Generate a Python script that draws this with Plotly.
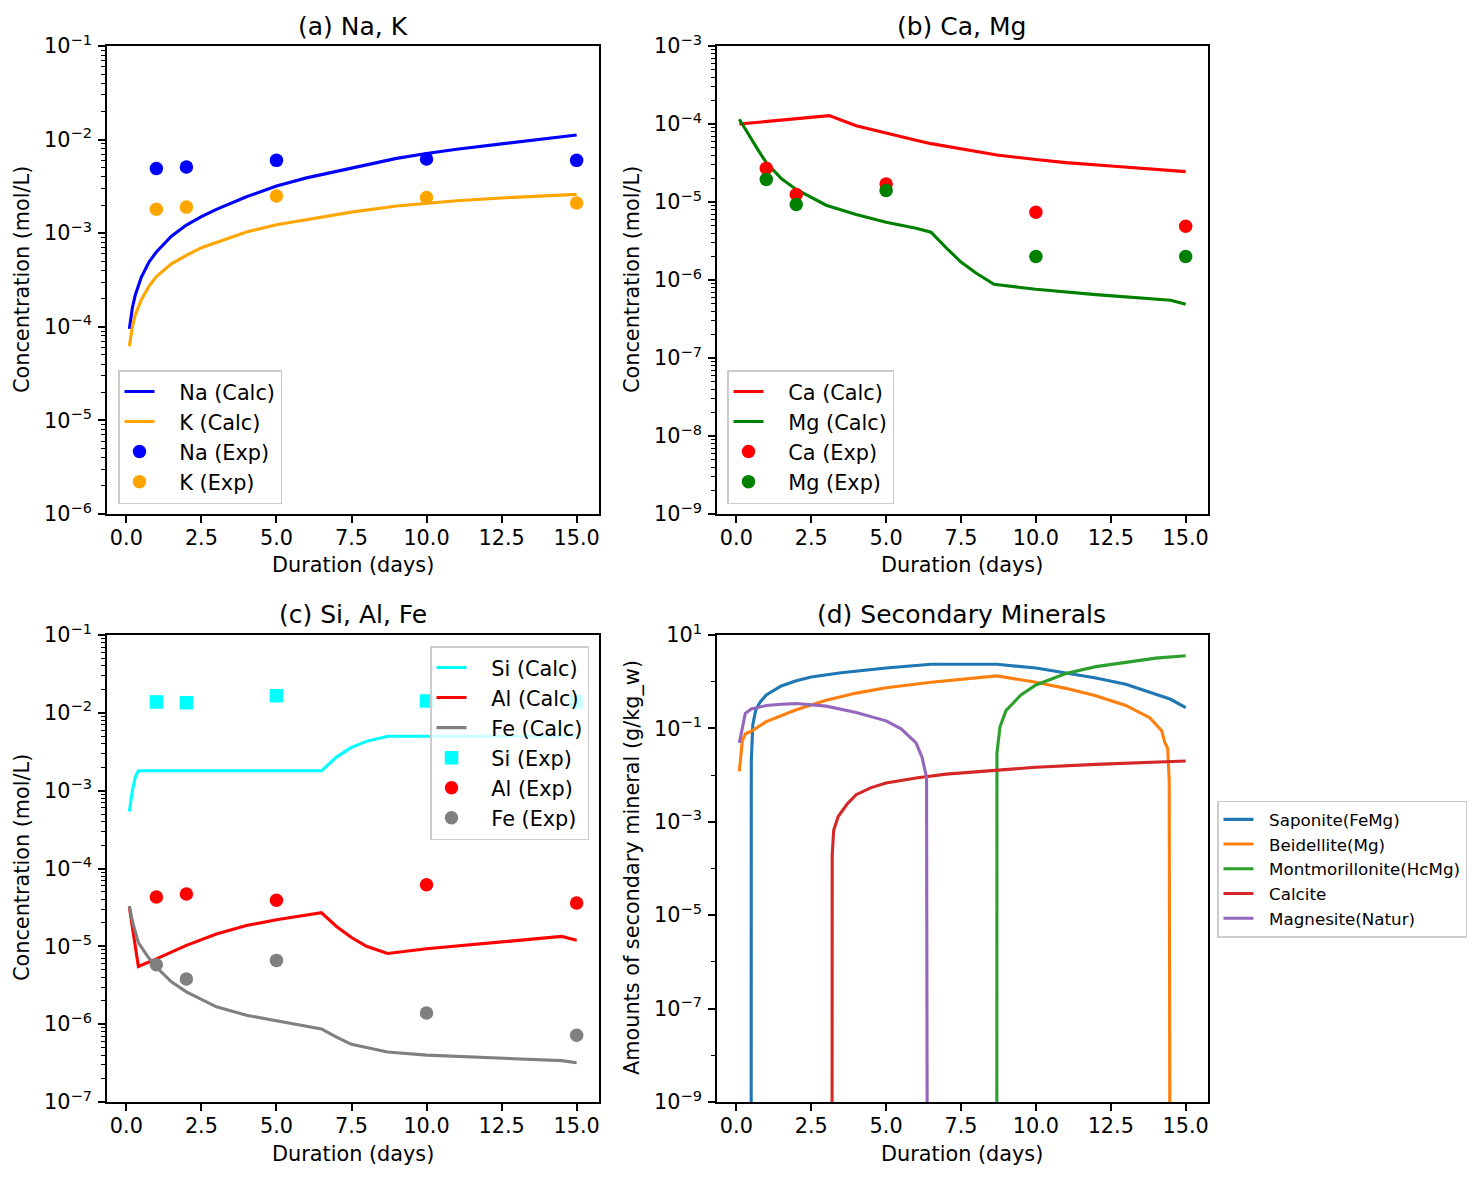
import plotly.graph_objects as go

# ---------------- data ----------------
# (a) Na, K
t_nak = [0.1, 0.2, 0.3, 0.5, 0.75, 1, 1.5, 2, 2.5, 3, 4, 5, 6, 7.5, 9, 10, 11, 12.5, 14, 15]
na_calc = [9.5e-5, 1.6e-4, 2.2e-4, 3.4e-4, 4.9e-4, 6.3e-4, 9.3e-4, 1.22e-3, 1.5e-3, 1.8e-3,
           2.45e-3, 3.2e-3, 3.9e-3, 5.0e-3, 6.3e-3, 7.1e-3, 7.9e-3, 9.0e-3, 1.03e-2, 1.12e-2]
k_calc = [6.2e-5, 1.0e-4, 1.35e-4, 1.95e-4, 2.7e-4, 3.45e-4, 4.7e-4, 5.8e-4, 7.0e-4, 8.0e-4,
          1.03e-3, 1.23e-3, 1.4e-3, 1.68e-3, 1.95e-3, 2.1e-3, 2.22e-3, 2.38e-3, 2.52e-3, 2.6e-3]
t_exp = [1, 2, 5, 10, 15]
na_exp = [4.9e-3, 5.1e-3, 6.0e-3, 6.2e-3, 6.0e-3]
k_exp = [1.8e-3, 1.9e-3, 2.5e-3, 2.4e-3, 2.1e-3]

# (b) Ca, Mg
t_ca = [0.1, 3.1, 4, 5, 6, 6.5, 7.5, 8.7, 10, 11, 12.5, 14, 14.5, 15]
ca_calc = [1.0e-4, 1.28e-4, 9.5e-5, 7.6e-5, 6.2e-5, 5.6e-5, 4.8e-5, 4.0e-5, 3.5e-5, 3.2e-5,
           2.9e-5, 2.6e-5, 2.55e-5, 2.45e-5]
t_mg = [0.1, 0.3, 0.5, 0.75, 1, 1.5, 2, 3, 4, 5, 6, 6.5, 7, 7.5, 8, 8.6, 10, 12, 14.5, 15]
mg_calc = [1.15e-4, 8.5e-5, 6.5e-5, 4.5e-5, 3.2e-5, 2.0e-5, 1.45e-5, 9.1e-6, 6.9e-6, 5.5e-6,
           4.6e-6, 4.1e-6, 2.6e-6, 1.7e-6, 1.23e-6, 8.8e-7, 7.6e-7, 6.5e-7, 5.5e-7, 4.9e-7]
ca_exp = [2.7e-5, 1.25e-5, 1.7e-5, 7.4e-6, 4.9e-6]
mg_exp = [1.95e-5, 9.3e-6, 1.4e-5, 2.0e-6, 2.0e-6]

# (c) Si, Al, Fe
t_si = [0.1, 0.2, 0.3, 0.4, 6.5, 7, 7.5, 8, 8.7, 14.5, 15]
si_calc = [5.4e-4, 1.0e-3, 1.5e-3, 1.8e-3, 1.8e-3, 2.7e-3, 3.6e-3, 4.3e-3, 5.0e-3, 5.0e-3, 5.2e-3]
t_al = [0.1, 0.4, 1, 2, 3, 4, 5, 6.5, 7, 7.5, 8, 8.7, 10, 12, 14.5, 15]
al_calc = [3.2e-5, 5.5e-6, 6.9e-6, 1.03e-5, 1.44e-5, 1.85e-5, 2.2e-5, 2.7e-5, 1.8e-5, 1.3e-5,
           1.0e-5, 8.1e-6, 9.3e-6, 1.1e-5, 1.34e-5, 1.2e-5]
t_fe = [0.1, 0.2, 0.4, 0.7, 1, 1.5, 2, 3, 4, 5, 6.5, 7, 7.5, 8, 8.7, 10, 12, 14.5, 15]
fe_calc = [3.3e-5, 2.1e-5, 1.12e-5, 7.5e-6, 5.4e-6, 3.5e-6, 2.6e-6, 1.67e-6, 1.3e-6, 1.1e-6,
           8.7e-7, 6.8e-7, 5.5e-7, 5.0e-7, 4.4e-7, 4.0e-7, 3.7e-7, 3.4e-7, 3.2e-7]
si_exp = [1.38e-2, 1.35e-2, 1.66e-2, 1.42e-2, 1.38e-2]
al_exp = [4.3e-5, 4.7e-5, 3.9e-5, 6.2e-5, 3.6e-5]
fe_exp = [5.8e-6, 3.8e-6, 6.6e-6, 1.39e-6, 7.2e-7]

# (d) Secondary minerals (g/kg_w); 0 = not present
t_sap = [0.1, 0.49, 0.5, 0.55, 0.65, 0.8, 1, 1.5, 2, 2.5, 3.5, 5, 6.5, 8.7, 10, 11, 12, 13, 14, 14.5, 15]
saponite = [0, 0, 0.02, 0.12, 0.25, 0.37, 0.52, 0.81, 1.05, 1.26, 1.55, 1.96, 2.36, 2.36, 1.96,
            1.55, 1.2, 0.88, 0.55, 0.42, 0.28]
t_bei = [0.1, 0.2, 0.3, 0.5, 1, 2, 3, 4, 5, 6.5, 8.7, 10, 11, 12, 13, 13.8, 14.2, 14.3, 14.4,
         14.45, 14.5, 15]
beidellite = [0.012, 0.054, 0.076, 0.087, 0.14, 0.25, 0.40, 0.57, 0.74, 0.97, 1.33, 0.97, 0.72,
              0.50, 0.31, 0.17, 0.089, 0.051, 0.037, 0.0078, 0, 0]
t_mon = [0.1, 8.69, 8.7, 8.8, 9, 9.5, 10, 11, 12, 13, 14, 15]
montmorillonite = [0, 0, 0.03, 0.107, 0.24, 0.52, 0.85, 1.5, 2.1, 2.6, 3.2, 3.6]
t_cal = [0.1, 3.19, 3.2, 3.25, 3.4, 3.7, 4, 4.5, 5, 6, 7, 8.7, 10, 12, 15]
calcite = [0, 0, 1.9e-4, 6.6e-4, 1.3e-3, 2.4e-3, 3.8e-3, 5.4e-3, 6.8e-3, 8.7e-3, 1.05e-2,
           1.28e-2, 1.47e-2, 1.7e-2, 2.0e-2]
t_mag = [0.1, 0.2, 0.3, 0.5, 1, 1.5, 2, 3, 4, 5, 5.5, 6, 6.2, 6.35, 6.4, 15]
magnesite = [0.049, 0.107, 0.21, 0.26, 0.31, 0.33, 0.34, 0.30, 0.22, 0.145, 0.098, 0.049,
             0.024, 0.009, 0, 0]

x_ticks = [0, 2.5, 5, 7.5, 10, 12.5, 15]
x_ticktext = ["0.0", "2.5", "5.0", "7.5", "10.0", "12.5", "15.0"]

titles = ["(a) Na, K", "(b) Ca, Mg", "(c) Si, Al, Fe", "(d) Secondary Minerals"]
xlabel = "Duration (days)"
ylabel_conc = "Concentration (mol/L)"
ylabel_min = "Amounts of secondary mineral (g/kg_w)"

# ---------------- figure ----------------
W, H = 1481, 1181
FONT = "DejaVu Sans"
FS = 20.8
LW = 3.1
MS = 13.5
PAD = "\u00a0\u00a0\u00a0"  # gap between legend handle and label
PAD4 = "\u00a0\u00a0"


def px(x):
    return x / W


def py(y):
    return 1 - y / H


def clip(vals):
    # matplotlib log-scale clipping of non-positive values
    return [v if v > 0 else 1e-20 for v in vals]


dom_x = [[px(107), px(599)], [px(717), px(1208)]]
dom_y = [[py(514), py(46)], [py(1102), py(635)]]

fig = go.Figure()


def line(x, y, name, color, xa, ya, leg, pad=PAD):
    fig.add_trace(go.Scatter(x=x, y=clip(y), mode="lines", name=pad + name, xaxis=xa, yaxis=ya,
                             line=dict(color=color, width=LW), legend=leg, legendgroup=name))


def pts(x, y, name, color, xa, ya, leg, symbol="circle"):
    fig.add_trace(go.Scatter(x=x, y=y, mode="markers", name=PAD + name, xaxis=xa, yaxis=ya,
                             marker=dict(color=color, size=MS, symbol=symbol, line=dict(width=0)),
                             legend=leg, legendgroup=name))


line(t_nak, na_calc, "Na (Calc)", "blue", "x", "y", "legend")
line(t_nak, k_calc, "K (Calc)", "orange", "x", "y", "legend")
pts(t_exp, na_exp, "Na (Exp)", "blue", "x", "y", "legend")
pts(t_exp, k_exp, "K (Exp)", "orange", "x", "y", "legend")

line(t_ca, ca_calc, "Ca (Calc)", "red", "x2", "y2", "legend2")
line(t_mg, mg_calc, "Mg (Calc)", "green", "x2", "y2", "legend2")
pts(t_exp, ca_exp, "Ca (Exp)", "red", "x2", "y2", "legend2")
pts(t_exp, mg_exp, "Mg (Exp)", "green", "x2", "y2", "legend2")

line(t_si, si_calc, "Si (Calc)", "cyan", "x3", "y3", "legend3")
line(t_al, al_calc, "Al (Calc)", "red", "x3", "y3", "legend3")
line(t_fe, fe_calc, "Fe (Calc)", "gray", "x3", "y3", "legend3")
pts(t_exp, si_exp, "Si (Exp)", "cyan", "x3", "y3", "legend3", symbol="square")
pts(t_exp, al_exp, "Al (Exp)", "red", "x3", "y3", "legend3")
pts(t_exp, fe_exp, "Fe (Exp)", "gray", "x3", "y3", "legend3")

line(t_sap, saponite, "Saponite(FeMg)", "#1f77b4", "x4", "y4", "legend4", pad=PAD4)
line(t_bei, beidellite, "Beidellite(Mg)", "#ff7f0e", "x4", "y4", "legend4", pad=PAD4)
line(t_mon, montmorillonite, "Montmorillonite(HcMg)", "#2ca02c", "x4", "y4", "legend4", pad=PAD4)
line(t_cal, calcite, "Calcite", "#d62728", "x4", "y4", "legend4", pad=PAD4)
line(t_mag, magnesite, "Magnesite(Natur)", "#9467bd", "x4", "y4", "legend4", pad=PAD4)

axis_common = dict(showline=True, linecolor="black", linewidth=1.6, mirror=True, showgrid=False,
                   zeroline=False, ticks="outside", ticklen=7, tickwidth=1.6, tickcolor="black",
                   tickfont=dict(family=FONT, size=FS, color="black"), automargin=False)


def xaxis(i, anchor):
    d = dict(axis_common)
    d.update(domain=dom_x[i % 2], range=[-0.645, 15.745], tickmode="array", tickvals=x_ticks,
             ticktext=x_ticktext, anchor=anchor, ticklabelstandoff=-3)
    return d


def sup(k):
    return "10<sup>" + ("−" + str(-k) if k < 0 else str(k)) + "</sup>"


def yaxis(i, anchor, lo, hi, step=1):
    d = dict(axis_common)
    majors = list(range(lo, hi + 1, step))
    minors = []
    if step == 1:
        for k in range(lo, hi):
            minors += [m * 10.0 ** k for m in range(2, 10)]
    else:
        minors = [10.0 ** k for k in range(lo, hi + 1) if k not in majors]
    d.update(domain=dom_y[i // 2], type="log", range=[lo, hi], tickmode="array",
             tickvals=[10.0 ** k for k in majors], ticktext=[sup(k) for k in majors],
             anchor=anchor, ticklabelstandoff=2,
             minor=dict(tickmode="array", tickvals=minors, ticks="outside", ticklen=4,
                        tickwidth=1.2, tickcolor="black", showgrid=False))
    return d


legend_common = dict(bgcolor="rgba(255,255,255,0.8)", bordercolor="#cccccc", borderwidth=1.5,
                     font=dict(family=FONT, size=FS, color="black"), traceorder="grouped",
                     tracegroupgap=0)
leg4 = dict(legend_common)
leg4.update(font=dict(family=FONT, size=16.7, color="black"),
            x=px(1217), y=py(869), xanchor="left", yanchor="middle")

fig.update_layout(
    width=W, height=H, margin=dict(l=0, r=0, t=0, b=0),
    paper_bgcolor="white", plot_bgcolor="white",
    font=dict(family=FONT, size=FS, color="black"),
    xaxis=xaxis(0, "y"), yaxis=yaxis(0, "x", -6, -1),
    xaxis2=xaxis(1, "y2"), yaxis2=yaxis(1, "x2", -9, -3),
    xaxis3=xaxis(2, "y3"), yaxis3=yaxis(2, "x3", -7, -1),
    xaxis4=xaxis(3, "y4"), yaxis4=yaxis(3, "x4", -9, 1, step=2),
    legend=dict(legend_common, x=px(118), y=py(504), xanchor="left", yanchor="bottom"),
    legend2=dict(legend_common, x=px(727), y=py(504), xanchor="left", yanchor="bottom"),
    legend3=dict(legend_common, x=px(589), y=py(646), xanchor="right", yanchor="top"),
    legend4=leg4,
    showlegend=True,
)

ann = []
title_pos = [(353, 26), (962, 26), (353, 614), (962, 614)]
for t, (cx, cy) in zip(titles, title_pos):
    ann.append(dict(text=t, x=px(cx), y=py(cy), xref="paper", yref="paper", showarrow=False,
                    xanchor="center", yanchor="middle", font=dict(family=FONT, size=25, color="black")))
for cx, cy in [(353, 565), (962, 565), (353, 1154), (962, 1154)]:
    ann.append(dict(text=xlabel, x=px(cx), y=py(cy), xref="paper", yref="paper", showarrow=False,
                    xanchor="center", yanchor="middle", font=dict(family=FONT, size=FS, color="black")))
for text, cx, cy in [(ylabel_conc, 22, 280), (ylabel_conc, 632, 280), (ylabel_conc, 22, 868),
                     (ylabel_min, 632, 868)]:
    ann.append(dict(text=text, x=px(cx), y=py(cy), xref="paper", yref="paper", showarrow=False,
                    textangle=-90, xanchor="center", yanchor="middle",
                    font=dict(family=FONT, size=FS, color="black")))
fig.update_layout(annotations=ann)

fig.write_html("out.html")
